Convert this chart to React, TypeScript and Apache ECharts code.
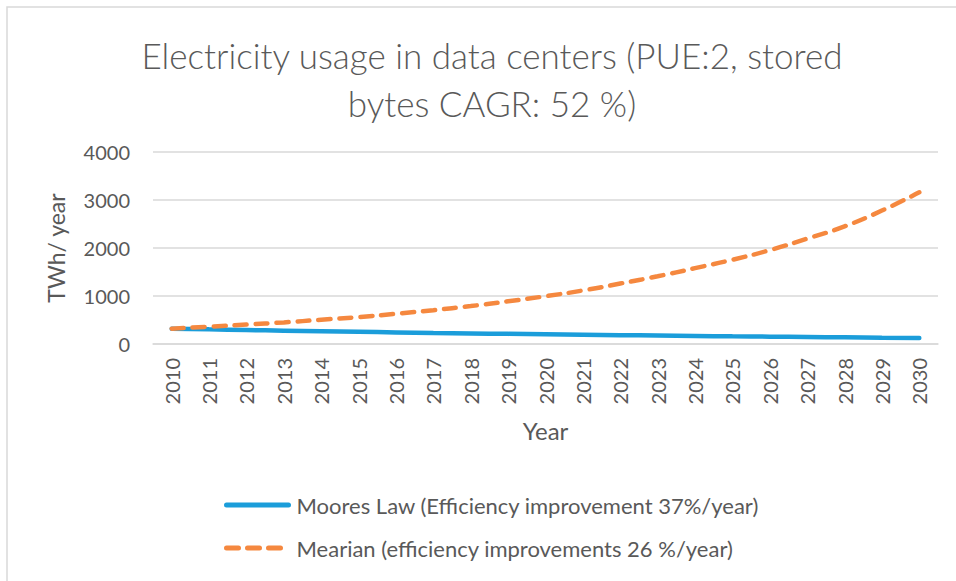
import React, { useEffect, useRef } from "react";
import * as echarts from "echarts";

const years = [
  "2010", "2011", "2012", "2013", "2014", "2015", "2016", "2017", "2018", "2019", "2020",
  "2021", "2022", "2023", "2024", "2025", "2026", "2027", "2028", "2029", "2030",
];
const mooresLaw = [
  320, 305, 291, 278, 266, 254, 242, 231, 221, 211, 202,
  193, 184, 176, 168, 160, 153, 146, 139, 132, 125,
];
const mearian = [
  320, 360, 405, 450, 505, 560, 630, 705, 790, 890, 995,
  1115, 1260, 1410, 1580, 1755, 1955, 2195, 2450, 2780, 3160,
];
const seriesNames = [
  "Moores Law (Efficiency improvement 37%/year)",
  "Mearian (efficiency improvements 26 %/year)",
];
const titleText = "Electricity usage in data centers (PUE:2, stored\nbytes CAGR: 52 %)";
const yTicks = { min: 0, max: 4000, interval: 1000 };

const FONT = "Lato, 'Open Sans', sans-serif";
const GREY = "#595959";

export default function App() {
  const ref = useRef<HTMLDivElement>(null);
  useEffect(() => {
    if (!ref.current) return;
    const chart = echarts.init(ref.current, null, { renderer: "svg" });
    chart.setOption({
      animation: false,
      backgroundColor: "#ffffff",
      textStyle: { fontFamily: FONT },
      graphic: [
        {
          type: "rect",
          shape: { x: 7, y: 7, width: 1200, height: 1200 },
          style: { fill: "none", stroke: "#d9d9d9", lineWidth: 1.5 },
          silent: true,
          z: 0,
        },
      ],
      title: {
        text: titleText,
        left: 487,
        top: 26,
        textAlign: "center",
        textStyle: {
          fontFamily: FONT,
          fontSize: 35,
          lineHeight: 48,
          fontWeight: 300,
          color: GREY,
        },
      },
      grid: { left: 153, right: 18, top: 152, bottom: 237, containLabel: false },
      legend: {
        orient: "vertical",
        left: 219,
        top: 489,
        itemWidth: 62,
        itemHeight: 14,
        itemGap: 21,
        data: seriesNames,
        itemStyle: { opacity: 0 },
        lineStyle: { width: 5, cap: "round" },
        textStyle: { fontFamily: FONT, fontSize: 22, color: GREY, padding: [0, 0, 0, 3] },
      },
      xAxis: {
        type: "category",
        data: years,
        boundaryGap: true,
        name: "Year",
        nameLocation: "middle",
        nameGap: 74,
        nameTextStyle: { fontFamily: FONT, fontSize: 24, color: GREY },
        axisLine: { show: true, lineStyle: { color: "#d9d9d9", width: 1.5 } },
        axisTick: { show: false },
        axisLabel: {
          rotate: 90,
          margin: 14,
          fontFamily: FONT,
          fontSize: 20,
          color: GREY,
          interval: 0,
        },
      },
      yAxis: {
        type: "value",
        min: yTicks.min,
        max: yTicks.max,
        interval: yTicks.interval,
        name: "TWh/ year",
        nameLocation: "middle",
        nameGap: 86,
        nameTextStyle: { fontFamily: FONT, fontSize: 23, color: GREY },
        axisLine: { show: false },
        axisTick: { show: false },
        axisLabel: {
          margin: 23,
          fontFamily: FONT,
          fontSize: 20,
          color: GREY,
          formatter: (v: number) => String(v),
        },
        splitLine: { lineStyle: { color: "#d9d9d9", width: 1.5 } },
      },
      series: [
        {
          name: seriesNames[0],
          type: "line",
          data: mooresLaw,
          symbol: "none",
          smooth: true,
          lineStyle: { color: "#1B9DDA", width: 4.5, cap: "round" },
          itemStyle: { color: "#1B9DDA" },
        },
        {
          name: seriesNames[1],
          type: "line",
          data: mearian,
          symbol: "none",
          smooth: true,
          lineStyle: { color: "#F5883F", width: 4.5, type: [12, 9], cap: "round" },
          itemStyle: { color: "#F5883F" },
        },
      ],
    });
    return () => chart.dispose();
  }, []);
  return (
    <div
      ref={ref}
      style={{ position: "absolute", left: 0, top: 0, width: 956, height: 581 }}
    />
  );
}
